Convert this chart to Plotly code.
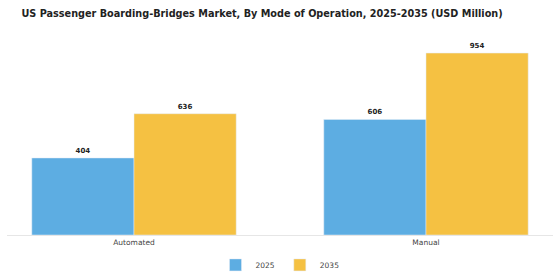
import plotly.graph_objects as go

categories = ["Automated", "Manual"]
years = ["2025", "2035"]
values_2025 = [404, 606]
values_2035 = [636, 954]
colors = ["#5DADE2", "#F5C142"]

fig = go.Figure()
for name, vals, col in zip(years, [values_2025, values_2035], colors):
    fig.add_trace(go.Bar(
        x=categories, y=vals, name=name, marker_color=col,
        text=[str(v) for v in vals], textposition="outside",
        textfont=dict(size=7, color="#222", family="DejaVu Sans", weight="bold"),
        cliponaxis=False,
    ))

fig.update_layout(
    width=560, height=280,
    margin=dict(l=7, r=7, t=30, b=45, autoexpand=False),
    paper_bgcolor="white", plot_bgcolor="white",
    barmode="group", bargap=0.3, bargroupgap=0,
    title=dict(text="<b>US Passenger Boarding-Bridges Market, By Mode of Operation, 2025-2035 (USD Million)</b>",
               x=0.468, xanchor="center", yref="container", y=0.965, yanchor="top",
               font=dict(size=9.7, color="#222", family="DejaVu Sans")),
    xaxis=dict(range=[-0.435, 1.435], showline=True, linecolor="#e6e6e6", linewidth=1,
               ticks="", tickfont=dict(size=7.5, color="#444", family="DejaVu Sans"), showgrid=False),
    yaxis=dict(range=[0, 1075], visible=False, showgrid=False),
    legend=dict(orientation="h", x=0.5, xanchor="center", yref="container", y=0.054, yanchor="middle",
                font=dict(size=7.5, color="#444", family="DejaVu Sans"), itemwidth=30),
    showlegend=True,
)
fig.write_html("out.html")
